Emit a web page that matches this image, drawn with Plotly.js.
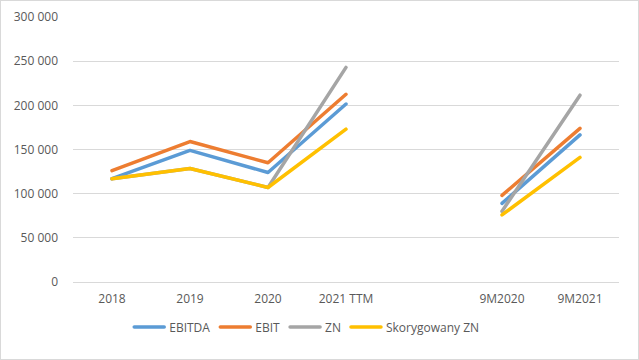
<!DOCTYPE html>
<html><head><meta charset="utf-8">
<script src="https://cdn.plot.ly/plotly-3.0.1.min.js"></script>
<style>
body{margin:0;background:#fff;}
#wrap{position:relative;width:639px;height:360px;}
#chart{width:639px;height:360px;}
#frame{position:absolute;left:0;top:0;width:639px;height:360px;box-sizing:border-box;border:1px solid #d9d9d9;pointer-events:none;}
.scatterlayer path.js-line,.legendlines path{stroke-linecap:round;stroke-linejoin:round;}
</style>
</head><body>
<div id="wrap"><div id="chart"></div><div id="frame"></div></div>
<script>
const categories = ['2018', '2019', '2020', '2021 TTM', ' ', '9M2020', '9M2021'];
const ebitda = [117000, 149000, 124000, 201500, null, 89000, 166500];
const ebit = [126000, 159000, 135000, 212500, null, 98000, 174000];
const zn = [117000, 128500, 107000, 243000, null, 80000, 211500];
const skorygowanyZn = [117000, 128500, 107000, 173000, null, 76000, 141000];
const seriesNames = ['EBITDA', 'EBIT', 'ZN', 'Skorygowany ZN'];
const yTicks = [0, 50000, 100000, 150000, 200000, 250000, 300000];

const colors = ['#5B9BD5', '#ED7D31', '#A5A5A5', '#FFC000'];
const allSeries = [ebitda, ebit, zn, skorygowanyZn];
const traces = allSeries.map((vals, i) => ({
  type: 'scatter', mode: 'lines', x: categories, y: vals, name: seriesNames[i],
  line: {color: colors[i], width: 3.5}, connectgaps: false, hoverinfo: 'skip'
}));

const layout = {
  width: 639, height: 360,
  margin: {l: 73, r: 20, t: 17, b: 78},
  paper_bgcolor: '#fff', plot_bgcolor: '#fff',
  font: {family: 'Open Sans, sans-serif', size: 12, color: '#595959'},
  separators: ', ',
  showlegend: true,
  legend: {orientation: 'h', x: 0.48, xref: 'container', xanchor: 'center', y: 0.092, yref: 'container', yanchor: 'middle',
    font: {size: 12, color: '#595959'}, itemwidth: 30, traceorder: 'normal'},
  xaxis: {type: 'category', categoryorder: 'array', categoryarray: categories,
    range: [-0.5, categories.length - 0.5], showgrid: false, zeroline: false,
    showline: true, linecolor: '#d9d9d9', linewidth: 1, ticks: '', ticklabelstandoff: 6,
    tickfont: {size: 12, color: '#595959'}, fixedrange: true},
  yaxis: {range: [0, 300000], tickvals: yTicks, tickformat: ',d', showgrid: true, gridcolor: '#d9d9d9', gridwidth: 1,
    zeroline: false, showline: false, ticks: '', ticklabelstandoff: 14,
    tickfont: {size: 12, color: '#595959'}, fixedrange: true}
};
Plotly.newPlot('chart', traces, layout, {displayModeBar: false, staticPlot: true});
</script>
</body></html>
